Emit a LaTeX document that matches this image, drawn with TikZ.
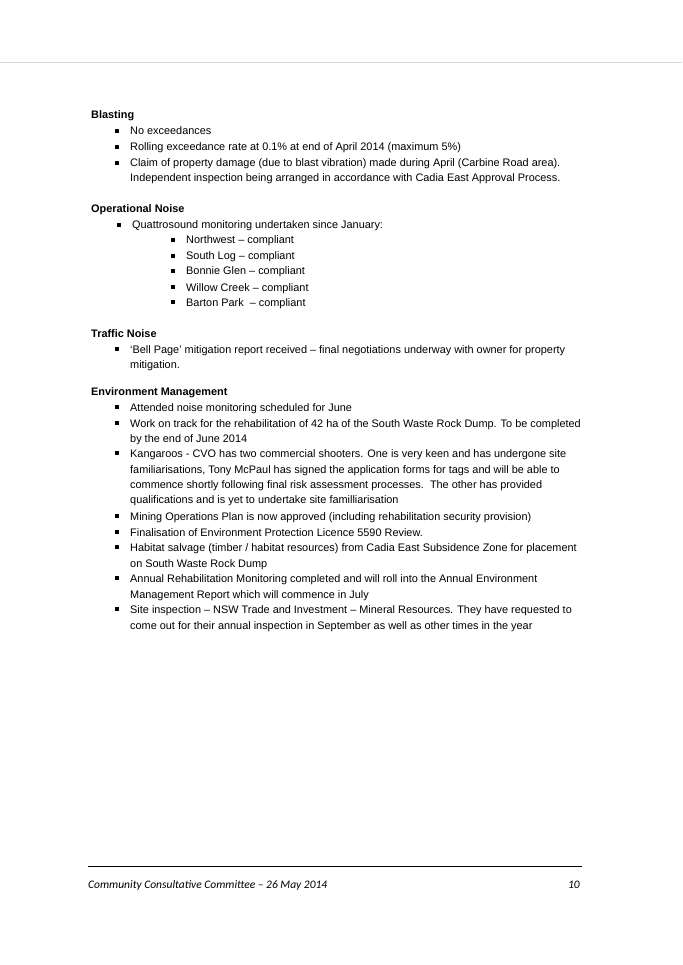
\documentclass[tikz,border=0pt]{standalone}
\usepackage{fontspec}
\setmainfont{Liberation Sans}
\newfontfamily\footfont{Carlito}
\begin{document}
\begin{tikzpicture}[x=1pt,y=-1pt,
  txt/.style={anchor=base west,inner sep=0pt,font=\fontsize{10.9}{12}\selectfont},
  head/.style={txt,font=\fontsize{10.9}{12}\selectfont\bfseries},
  bul/.style={fill=black,minimum size=3.2pt,inner sep=0pt,draw=none}]
\useasboundingbox (0,0) rectangle (682,965);
\fill[white] (0,0) rectangle (682,965);
\draw[black!15,line width=0.4pt] (0,62) -- (682,62);
\newcommand\myhd[3]{\node[head] (#1) at (91,#2) {#3};}
\newcommand\mybl[4]{\node[bul] (b#1) at (#2,#3-4) {};\node[txt] (t#1) at (#2+13,#3) {#4};}
\newcommand\mycl[3]{\node[txt] (c#1) at (130,#2) {#3};}
\myhd{h1}{119}{Blasting}
\mybl{1}{117}{135}{No exceedances}
\mybl{2}{117}{151}{Rolling exceedance rate at 0.1\% at end of April 2014 (maximum 5\%)}
\mybl{3}{117}{167}{Claim of property damage (due to blast vibration) made during April (Carbine Road area).}
\mycl{3}{182}{Independent inspection being arranged in accordance with Cadia East Approval Process.}
\myhd{h2}{213}{Operational Noise}
\mybl{4}{119}{229}{Quattrosound monitoring undertaken since January:}
\mybl{5}{173}{244}{Northwest – compliant}
\mybl{6}{173}{260}{South Log – compliant}
\mybl{7}{173}{275}{Bonnie Glen – compliant}
\mybl{8}{173}{291}{Willow Creek – compliant}
\mybl{9}{173}{306}{Barton Park\ \ – compliant}
\myhd{h3}{337}{Traffic Noise}
\mybl{10}{117}{353}{‘Bell Page’ mitigation report received – final negotiations underway with owner for property}
\mycl{10}{368}{mitigation.}
\myhd{h4}{395}{Environment Management}
\mybl{11}{117}{411}{Attended noise monitoring scheduled for June}
\mybl{12}{117}{427}{Work on track for the rehabilitation of 42 ha of the South Waste Rock Dump. To be completed}
\mycl{12}{442}{by the end of June 2014}
\mybl{13}{117}{457}{Kangaroos - CVO has two commercial shooters. One is very keen and has undergone site}
\mycl{13a}{473}{familiarisations, Tony McPaul has signed the application forms for tags and will be able to}
\mycl{13b}{488}{commence shortly following final risk assessment processes.\ \ The other has provided}
\mycl{13c}{503}{qualifications and is yet to undertake site familliarisation}
\mybl{14}{117}{520}{Mining Operations Plan is now approved (including rehabilitation security provision)}
\mybl{15}{117}{536}{Finalisation of Environment Protection Licence 5590 Review.}
\mybl{16}{117}{551}{Habitat salvage (timber / habitat resources) from Cadia East Subsidence Zone for placement}
\mycl{16}{567}{on South Waste Rock Dump}
\mybl{17}{117}{582}{Annual Rehabilitation Monitoring completed and will roll into the Annual Environment}
\mycl{17}{598}{Management Report which will commence in July}
\mybl{18}{117}{613}{Site inspection – NSW Trade and Investment – Mineral Resources. They have requested to}
\mycl{18}{629}{come out for their annual inspection in September as well as other times in the year}
\coordinate (fl) at (88,866); \coordinate (fr) at (582,866);
\draw[line width=0.8pt] (fl) -- (fr);
\node[anchor=base west,inner sep=0pt,font=\footfont\itshape\fontsize{11.5}{13}\selectfont] (ft) at (88,888) {Community Consultative Committee – 26 May 2014};
\node[anchor=base east,inner sep=0pt,font=\footfont\itshape\fontsize{11.5}{13}\selectfont] (pg) at (580,888) {10};
\end{tikzpicture}
\end{document}
